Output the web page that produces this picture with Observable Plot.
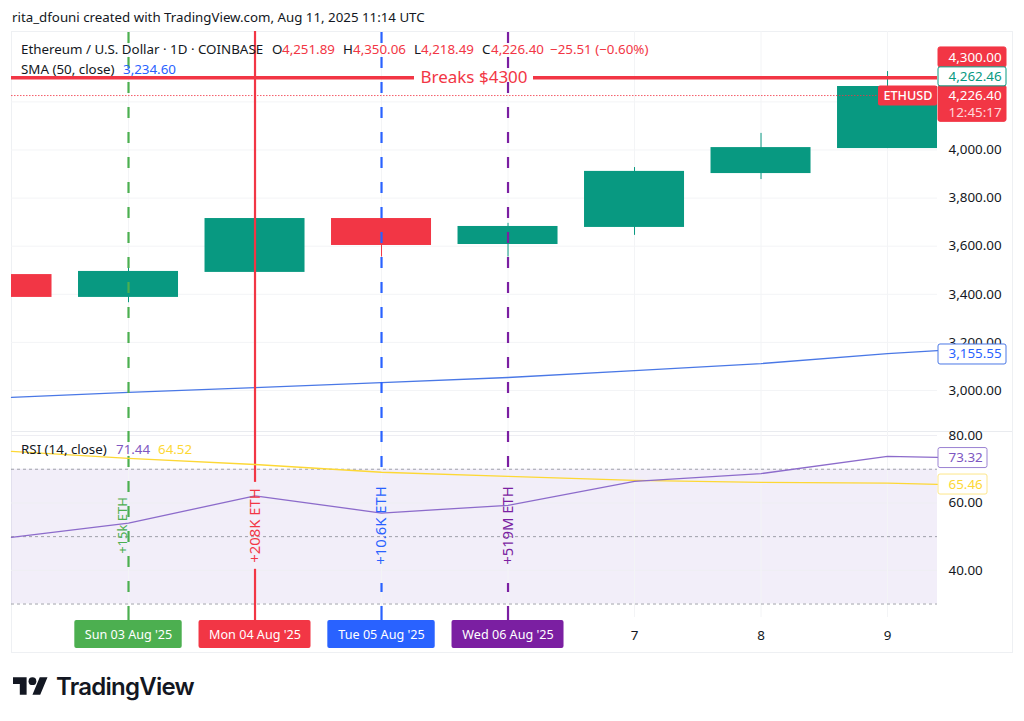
<!DOCTYPE html>
<html><head><meta charset="utf-8">
<script src="https://cdn.jsdelivr.net/npm/d3@7"></script>
<script src="https://cdn.jsdelivr.net/npm/@observablehq/plot@0.6"></script>
<style>
html,body{margin:0;padding:0;background:#fff}
body{font-family:"Noto Sans",sans-serif;color:#131722}
#wrap{position:relative;width:1024px;height:721px;overflow:hidden}
#frame{position:absolute;left:11px;top:31px;width:1000px;height:620px;border:1px solid #eef0f3;box-sizing:content-box}
#charts{position:absolute;left:0;top:31px;width:1024px}
#charts svg{display:block;background:transparent}
.t{position:absolute;white-space:nowrap;font-size:13.35px;line-height:16px}
#logo{position:absolute;left:13px;top:673px}
#logotext{position:absolute;left:56px;top:670px;font-family:Inter,sans-serif;font-weight:600;font-size:24px;line-height:34px;letter-spacing:-.75px;color:#131722}
</style></head><body>
<div id="wrap">
<div id="frame"></div>
<div id="charts"></div>
<div class="t" style="left:12px;top:9px;font-size:13.3px">rita_dfouni created with TradingView.com, Aug 11, 2025 11:14 UTC</div>
<div class="t" style="left:21px;top:41px">Ethereum / U.S. Dollar · 1D · COINBASE</div>
<div class="t" style="left:272px;top:41px">O</div><div class="t" style="left:282px;top:41px;color:#f23645">4,251.89</div>
<div class="t" style="left:343px;top:41px">H</div><div class="t" style="left:353px;top:41px;color:#f23645">4,350.06</div>
<div class="t" style="left:414px;top:41px">L</div><div class="t" style="left:421px;top:41px;color:#f23645">4,218.49</div>
<div class="t" style="left:482px;top:41px">C</div><div class="t" style="left:491px;top:41px;color:#f23645">4,226.40</div>
<div class="t" style="left:550px;top:41px;color:#f23645">−25.51 (−0.60%)</div>
<div class="t" style="left:21px;top:61px">SMA (50, close)</div><div class="t" style="left:123px;top:61px;color:#2962ff">3,234.60</div>
<div class="t" style="left:21px;top:441px">RSI (14, close)</div>
<div class="t" style="left:116px;top:441px;color:#7e57c2">71.44</div>
<div class="t" style="left:158px;top:441px;color:#fdd835">64.52</div>
<svg id="logo" width="35" height="28" viewBox="0 0 36 28"><path fill="#131722" d="M14 22H7V11H0V4h14v18zM28 22h-8l7.5-18h8L28 22z"/><circle fill="#131722" cx="20" cy="8" r="4"/></svg>
<div id="logotext">TradingView</div>
</div>
<script>
// ---- data
const candleDays = [2, 3, 4, 5, 6, 7, 8, 9];
const opens  = [3482, 3387, 3491, 3715, 3607, 3678, 3902, 4006];
const closes = [3387, 3495, 3715, 3603, 3682, 3911, 4010, 4264];
const highs  = [3482, 3510, 3725, 3715, 3695, 3927, 4069, 4326];
const lows   = [3387, 3365, 3491, 3555, 3555, 3645, 3877, 4006];

const xStart = 2.075, xEnd = 9.395;
const lineDays = [xStart, 3, 4, 5, 6, 7, 8, 9, xEnd];
const smaValues = [2971, 2992, 3012, 3033, 3054, 3083, 3112, 3153, 3166];
const rsiValues = [49.8, 54.0, 62.1, 57.0, 59.3, 66.4, 68.7, 73.8, 73.5];
const rsiMaValues = [75.3, 73.2, 71.4, 69.1, 67.9, 66.7, 66.1, 65.9, 65.5];

const priceTicks = [3000, 3200, 3400, 3600, 3800, 4000];
const priceGrid = [3000, 3200, 3400, 3600, 3800, 4000, 4200];
const rsiTicks = [40, 60, 80];
const rsiLevels = [70, 50, 30];
const dayTicks = [7, 8, 9];

const events = [
  {day: 3, color: "#4caf50", date: "Sun 03 Aug '25", amount: "+15k ETH"},
  {day: 4, color: "#f23645", date: "Mon 04 Aug '25", amount: "+208K ETH"},
  {day: 5, color: "#2962ff", date: "Tue 05 Aug '25", amount: "+10.6K ETH"},
  {day: 6, color: "#7b1fa2", date: "Wed 06 Aug '25", amount: "+519M ETH"}
];
const solidEvents = events.filter(e => e.day === 4);
const dashedEvents = events.filter(e => e.day !== 4);

const lastClose = 4226.40, target = 4300, lastPrice = 4262.46, smaLast = 3155.55;
const rsiLast = 73.32, rsiMaLast = 65.46;

// ---- scale helpers
const W = 1024, mL = 11, mR = 87;
const pxPerDay = (W - mL - mR) / (xEnd - xStart);
const priceDomain = [2829.5, 4492.7], priceH = 400;
const rsiDomain = [26, 81.2], rsiH = 186;
const pxPerUsd = priceH / (priceDomain[1] - priceDomain[0]);
const pxPerRsi = rsiH / (rsiDomain[1] - rsiDomain[0]);
const dx = px => px / pxPerDay;
const up = px => px / pxPerUsd;
const upR = px => px / pxPerRsi;
const fmt = d3.format(",.2f");
const GRID = "#f3f4f6";
const FONT = "Noto Sans";
const DASH = "11 14";
const EVENT_W = 2.2;
const idx = candleDays.map((_, i) => i);
const candleColor = i => closes[i] >= opens[i] ? "#089981" : "#f23645";

// ---- price panel
const gapL = xStart + dx(414 - 11), gapR = xStart + dx(533 - 11);
const priceBox = (price, shift, h, w, stroke, fill) => Plot.rect([price], {
  x1: xEnd + dx(1), x2: xEnd + dx(w),
  y1: price + up(shift) - up(h), y2: price + up(shift),
  fill, stroke, strokeWidth: 1, rx: 2
});
const priceLabel = (price, text, color, dy) => Plot.text([price], {
  x: xEnd, y: price, text: () => text, dx: 11, dy, textAnchor: "start",
  fill: color, fontSize: 13.4, fontFamily: FONT
});
const price = Plot.plot({
  width: W, height: priceH, marginLeft: mL, marginRight: mR, marginTop: 0, marginBottom: 0,
  style: {background: "transparent", fontFamily: FONT},
  x: {domain: [xStart, xEnd], axis: null},
  y: {domain: priceDomain, axis: null},
  marks: [
    Plot.ruleY(priceGrid, {x1: xStart, x2: xEnd, stroke: GRID}),
    Plot.ruleX(candleDays.slice(1), {stroke: GRID}),
    Plot.axisY(priceTicks, {anchor: "right", tickSize: 0, tickPadding: 11, tickFormat: fmt, label: null, fontSize: 13.4, fill: "#131722"}),
    Plot.ruleX(idx, {x: i => candleDays[i], y1: i => lows[i], y2: i => highs[i], stroke: candleColor, strokeWidth: 1, clip: "frame"}),
    Plot.rect(idx, {x1: i => candleDays[i] - dx(50), x2: i => candleDays[i] + dx(50), y1: i => opens[i], y2: i => closes[i], fill: candleColor, clip: "frame"}),
    Plot.ruleY([lastClose], {x1: xStart, x2: xEnd, stroke: "#f23645", strokeOpacity: .8, strokeDasharray: "1.5 1.5"}),
    Plot.line(lineDays, {x: d => d, y: (d, i) => smaValues[i], stroke: "#4a78e6", strokeWidth: 1.3}),
    Plot.ruleX(solidEvents, {x: "day", y1: priceDomain[0], y2: priceDomain[1], stroke: "color", strokeWidth: EVENT_W}),
    Plot.ruleX(dashedEvents, {x: "day", y1: priceDomain[0], y2: priceDomain[1], stroke: "color", strokeWidth: EVENT_W, strokeDasharray: DASH, strokeDashoffset: 12}),
    Plot.ruleY([target], {x1: xStart, x2: gapL, stroke: "#f23645", strokeWidth: 3.5}),
    Plot.ruleY([target], {x1: gapR, x2: xEnd, stroke: "#f23645", strokeWidth: 3.5}),
    Plot.text(["Breaks $4300"], {x: (gapL + gapR) / 2, y: target, fill: "#f23645", fontSize: 17, fontFamily: FONT}),
    Plot.rect([lastClose], {x1: xEnd - dx(59), x2: xEnd, y1: lastClose - up(10.5), y2: lastClose + up(9.5), fill: "#f23645", rx: 2}),
    Plot.text(["ETHUSD"], {x: xEnd - dx(29.5), y: lastClose, fill: "#fff", fontSize: 12.6, fontFamily: FONT, fontWeight: 500}),
    priceBox(target, 30.4, 20, 69, "#f23645", "#f23645"),
    priceBox(lastClose, 9.7, 36, 69, "#f23645", "#f23645"),
    priceBox(lastPrice, 19.5, 19, 69, "#089981", "#fff"),
    priceBox(smaLast, 8.6, 20, 69, "#4a78e6", "#fff"),
    priceLabel(target, "4,300.00", "#fff", -20),
    priceLabel(lastPrice, "4,262.46", "#089981", -10),
    priceLabel(lastClose, "4,226.40", "#fff", 0),
    priceLabel(lastClose, "12:45:17", "#ffd6da", 17),
    priceLabel(smaLast, "3,155.55", "#2962ff", 1)
  ]
});

// ---- RSI panel
const rsiBox = (v, h, color) => Plot.rect([v], {
  x1: xEnd + dx(1), x2: xEnd + dx(50), y1: v - upR(h / 2), y2: v + upR(h / 2),
  fill: "#fff", stroke: color, rx: 2
});
const rsiLabel = (v, text, color) => Plot.text([v], {
  x: xEnd, y: v, text: () => text, dx: 11, textAnchor: "start", fill: color, fontSize: 13.4, fontFamily: FONT
});
// event lines stop around their amount text; the green one runs through it
const redGap = [66.1, 40.3];
const dashGap = [70.5, 36.1];
const gappedDashed = dashedEvents.filter(e => e.day !== 3);
const greenEvents = events.filter(e => e.day === 3);
const rsi = Plot.plot({
  width: W, height: rsiH, marginLeft: mL, marginRight: mR, marginTop: 0, marginBottom: 0,
  style: {background: "transparent", fontFamily: FONT},
  x: {domain: [xStart, xEnd], axis: null},
  y: {domain: rsiDomain, axis: null},
  marks: [
    Plot.ruleY([rsiDomain[1]], {x1: xStart, x2: xEnd + dx(75), stroke: "#e9ebef"}),
    Plot.rect([0], {x1: xStart, x2: xEnd, y1: rsiLevels[2], y2: rsiLevels[0], fill: "#7e57c2", fillOpacity: .1}),
    Plot.ruleY(rsiTicks, {x1: xStart, x2: xEnd, stroke: "#eeeef3"}),
    Plot.ruleX(candleDays.slice(1), {stroke: GRID}),
    Plot.ruleY(rsiLevels, {x1: xStart, x2: xEnd, stroke: "#8a8d96", strokeDasharray: "3 3", strokeOpacity: .8}),
    Plot.axisY(rsiTicks, {anchor: "right", tickSize: 0, tickPadding: 11, tickFormat: fmt, label: null, fontSize: 13.4, fill: "#131722"}),
    Plot.ruleX(greenEvents, {x: "day", y1: rsiDomain[0], y2: rsiDomain[1], stroke: "color", strokeWidth: EVENT_W, strokeDasharray: DASH}),
    Plot.ruleX(solidEvents, {x: "day", y1: redGap[0], y2: rsiDomain[1], stroke: "color", strokeWidth: EVENT_W}),
    Plot.ruleX(solidEvents, {x: "day", y1: rsiDomain[0], y2: redGap[1], stroke: "color", strokeWidth: EVENT_W}),
    Plot.ruleX(gappedDashed, {x: "day", y1: dashGap[0], y2: rsiDomain[1], stroke: "color", strokeWidth: EVENT_W, strokeDasharray: DASH}),
    Plot.ruleX(gappedDashed, {x: "day", y1: rsiDomain[0], y2: dashGap[1], stroke: "color", strokeWidth: EVENT_W, strokeDasharray: DASH}),
    Plot.line(lineDays, {x: d => d, y: (d, i) => rsiMaValues[i], stroke: "#fdd835", strokeWidth: 1.3}),
    Plot.line(lineDays, {x: d => d, y: (d, i) => rsiValues[i], stroke: "#8c6bcb", strokeWidth: 1.3}),
    Plot.text(gappedDashed.concat(solidEvents), {x: "day", y: 53.3, text: "amount", fill: "color", rotate: -90, fontSize: 14.8, fontFamily: FONT}),
    Plot.text(greenEvents, {x: "day", y: 53.3, text: "amount", fill: "color", rotate: -90, fontSize: 13, fontFamily: FONT, dx: -6}),
    rsiBox(rsiLast, 20, "#9b82d2"),
    rsiBox(rsiMaLast, 20, "#fde68a"),
    rsiLabel(rsiLast, "73.32", "#7e57c2"),
    rsiLabel(rsiMaLast, "65.46", "#fdd835")
  ]
});

// ---- date strip
const boxHalf = e => e.date.startsWith("Mon") || e.date.startsWith("Wed") ? 56 : 53.7;
const strip = Plot.plot({
  width: W, height: 35, marginLeft: mL, marginRight: mR, marginTop: 0, marginBottom: 0,
  style: {background: "transparent", fontFamily: FONT},
  x: {domain: [xStart, xEnd], axis: null},
  y: {domain: [35, 0], axis: null},
  marks: [
    Plot.ruleX(events, {x: "day", y1: 0, y2: 3, stroke: "color", strokeWidth: EVENT_W}),
    Plot.rect(events, {x1: d => d.day - dx(boxHalf(d)), x2: d => d.day + dx(boxHalf(d)), y1: 3, y2: 31, fill: "color", rx: 2}),
    Plot.text(events, {x: "day", y: 17, text: "date", fill: "#fff", fontSize: 12.6, fontFamily: FONT}),
    Plot.text(dayTicks, {x: d => d, y: 18, text: d => String(d), fill: "#131722", fontSize: 13.4, fontFamily: FONT})
  ]
});

const host = document.getElementById("charts");
host.append(price, rsi, strip);
</script>
</body></html>
